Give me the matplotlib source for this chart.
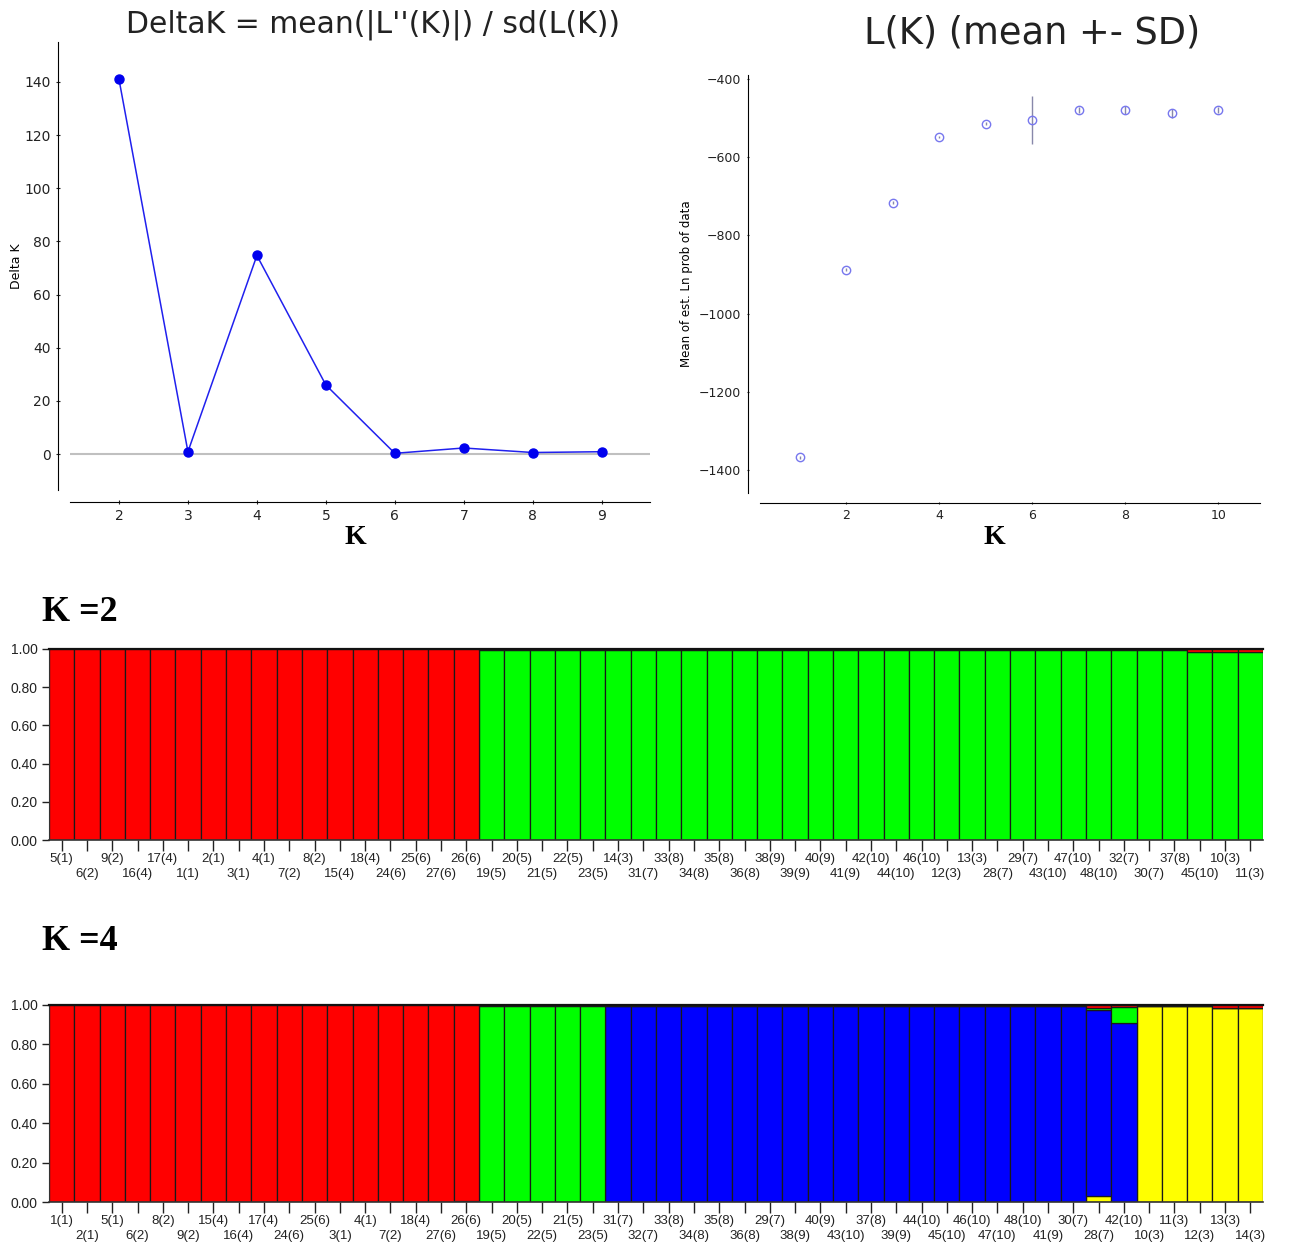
import numpy as np
import matplotlib
matplotlib.use('Agg')
import matplotlib.pyplot as plt

# Evanno DeltaK
k_delta = [2, 3, 4, 5, 6, 7, 8, 9]
delta_k = [141.0, 0.9, 74.7, 26.0, 0.3, 2.3, 0.6, 0.9]

# L(K) mean +- SD
k_lnp = [1, 2, 3, 4, 5, 6, 7, 8, 9, 10]
mean_lnp = [-1367, -887, -716, -548, -515, -505, -479, -479, -488, -479]
sd_lnp = [3, 3, 4, 3, 4, 61, 8, 10, 11, 8]

# K=2 bar plot
k2_labels = ['5(1)', '6(2)', '9(2)', '16(4)', '17(4)', '1(1)', '2(1)', '3(1)', '4(1)', '7(2)',
             '8(2)', '15(4)', '18(4)', '24(6)', '25(6)', '27(6)', '26(6)', '19(5)', '20(5)', '21(5)',
             '22(5)', '23(5)', '14(3)', '31(7)', '33(8)', '34(8)', '35(8)', '36(8)', '38(9)', '39(9)',
             '40(9)', '41(9)', '42(10)', '44(10)', '46(10)', '12(3)', '13(3)', '28(7)', '29(7)', '43(10)',
             '47(10)', '48(10)', '32(7)', '30(7)', '37(8)', '45(10)', '10(3)', '11(3)']
k2_green = [0.0, 0.0, 0.0, 0.0, 0.0, 0.0, 0.0, 0.0, 0.0, 0.0,
            0.0, 0.0, 0.0, 0.0, 0.0, 0.0, 0.0, 0.995, 0.995, 0.995,
            0.995, 0.995, 0.995, 0.995, 0.995, 0.995, 0.995, 0.995, 0.995, 0.995,
            0.995, 0.995, 0.995, 0.995, 0.995, 0.995, 0.995, 0.995, 0.995, 0.995,
            0.995, 0.995, 0.995, 0.995, 0.995, 0.985, 0.985, 0.985]
k2_red = [1.0, 1.0, 1.0, 1.0, 1.0, 1.0, 1.0, 1.0, 1.0, 1.0,
          1.0, 1.0, 1.0, 1.0, 1.0, 1.0, 1.0, 0.005, 0.005, 0.005,
          0.005, 0.005, 0.005, 0.005, 0.005, 0.005, 0.005, 0.005, 0.005, 0.005,
          0.005, 0.005, 0.005, 0.005, 0.005, 0.005, 0.005, 0.005, 0.005, 0.005,
          0.005, 0.005, 0.005, 0.005, 0.005, 0.015, 0.015, 0.015]

# K=4 bar plot
k4_labels = ['1(1)', '2(1)', '5(1)', '6(2)', '8(2)', '9(2)', '15(4)', '16(4)', '17(4)', '24(6)',
             '25(6)', '3(1)', '4(1)', '7(2)', '18(4)', '27(6)', '26(6)', '19(5)', '20(5)', '22(5)',
             '21(5)', '23(5)', '31(7)', '32(7)', '33(8)', '34(8)', '35(8)', '36(8)', '29(7)', '38(9)',
             '40(9)', '43(10)', '37(8)', '39(9)', '44(10)', '45(10)', '46(10)', '47(10)', '48(10)', '41(9)',
             '30(7)', '28(7)', '42(10)', '10(3)', '11(3)', '12(3)', '13(3)', '14(3)']
k4_yellow = [0.0, 0.0, 0.0, 0.0, 0.0, 0.0, 0.0, 0.0, 0.0, 0.0,
             0.0, 0.0, 0.0, 0.0, 0.0, 0.0, 0.0, 0.0, 0.0, 0.0,
             0.0, 0.0, 0.0, 0.0, 0.0, 0.0, 0.0, 0.0, 0.0, 0.0,
             0.0, 0.0, 0.0, 0.0, 0.0, 0.0, 0.0, 0.0, 0.0, 0.0,
             0.0, 0.03, 0.0, 0.995, 0.995, 0.995, 0.985, 0.985]
k4_blue = [0.0, 0.0, 0.0, 0.0, 0.0, 0.0, 0.0, 0.0, 0.0, 0.0,
           0.0, 0.0, 0.0, 0.0, 0.0, 0.0, 0.006, 0.0, 0.0, 0.0,
           0.0, 0.0, 0.995, 0.995, 0.995, 0.995, 0.995, 0.995, 0.995, 0.995,
           0.995, 0.995, 0.995, 0.995, 0.995, 0.995, 0.995, 0.995, 0.995, 0.995,
           0.995, 0.945, 0.91, 0.0, 0.0, 0.0, 0.0, 0.0]
k4_green = [0.0, 0.0, 0.0, 0.0, 0.0, 0.0, 0.0, 0.0, 0.0, 0.0,
            0.0, 0.0, 0.0, 0.0, 0.0, 0.0, 0.0, 0.995, 0.995, 0.995,
            0.995, 0.995, 0.0, 0.0, 0.0, 0.0, 0.0, 0.0, 0.0, 0.0,
            0.0, 0.0, 0.0, 0.0, 0.0, 0.0, 0.0, 0.0, 0.0, 0.0,
            0.0, 0.01, 0.08, 0.0, 0.0, 0.0, 0.0, 0.0]
k4_red = [1.0, 1.0, 1.0, 1.0, 1.0, 1.0, 1.0, 1.0, 1.0, 1.0,
          1.0, 1.0, 1.0, 1.0, 1.0, 1.0, 0.994, 0.005, 0.005, 0.005,
          0.005, 0.005, 0.005, 0.005, 0.005, 0.005, 0.005, 0.005, 0.005, 0.005,
          0.005, 0.005, 0.005, 0.005, 0.005, 0.005, 0.005, 0.005, 0.005, 0.005,
          0.005, 0.015, 0.01, 0.005, 0.005, 0.005, 0.015, 0.015]

W, H = 1293, 1248
fig = plt.figure(figsize=(W / 100, H / 100), dpi=100)
fig.patch.set_facecolor('white')

def fx(px):
    return px / W

def fy(px):
    return 1 - px / H

narrow = ['Liberation Sans', 'DejaVu Sans']
serif_bold = dict(family=['Liberation Serif', 'DejaVu Serif'], fontweight='bold')

# ---- DeltaK plot ----
ax1 = fig.add_axes([fx(70), fy(490), fx(650) - fx(70), fy(42) - fy(490)])
ax1.axhline(0, color='#c0c0c0', lw=1.5, zorder=1)
ax1.plot(k_delta, delta_k, '-', color='#2020ee', lw=1.1, zorder=2)
ax1.plot(k_delta, delta_k, 'o', color='#0000ee', ms=6.5, zorder=3)
ax1.set_xlim(1.29, 9.7)
ax1.set_ylim(-13.5, 155)
ax1.set_xticks(k_delta)
ax1.set_yticks([0, 20, 40, 60, 80, 100, 120, 140])
for s in ['top', 'right']:
    ax1.spines[s].set_visible(False)
ax1.spines['left'].set_position(('outward', 9))
ax1.spines['bottom'].set_position(('outward', 9))
ax1.tick_params(labelsize=10, length=3, direction='inout', colors='#222222')
ax1.set_ylabel('Delta K', fontsize=9, labelpad=1)
fig.text(fx(373), fy(25), "DeltaK = mean(|L''(K)|) / sd(L(K))", fontsize=21.5,
         ha='center', va='center', color='#222222')
fig.text(fx(355), fy(537), 'K', fontsize=20, ha='center', va='center', **serif_bold)

# ---- L(K) plot ----
ax2 = fig.add_axes([fx(760), fy(493), fx(1260) - fx(760), fy(75) - fy(493)])
ax2.errorbar(k_lnp, mean_lnp, yerr=sd_lnp, fmt='o', mfc='none', mec='#7777ee', ms=6,
             mew=1.0, ecolor='#8888aa', elinewidth=1.0, capsize=0)
ax2.set_xlim(0.15, 10.9)
ax2.set_ylim(-1458, -390)
ax2.set_xticks([2, 4, 6, 8, 10])
ax2.set_yticks([-400, -600, -800, -1000, -1200, -1400])
for s in ['top', 'right']:
    ax2.spines[s].set_visible(False)
ax2.spines['left'].set_position(('outward', 9))
ax2.spines['bottom'].set_position(('outward', 7))
ax2.tick_params(labelsize=9, length=2, direction='inout', colors='#222222')
ax2.set_ylabel('Mean of est. Ln prob of data', fontsize=8.5, labelpad=4)
fig.text(fx(1032), fy(33), 'L(K) (mean +- SD)', fontsize=26.5,
         ha='center', va='center', color='#222222')
fig.text(fx(994), fy(538), 'K', fontsize=20, ha='center', va='center', **serif_bold)


# ---- STRUCTURE bar plots ----
def bar_panel(ax, layers, labels):
    x = np.arange(len(labels))
    bottom = np.zeros(len(labels))
    for vals, col in layers:
        ax.bar(x, vals, width=1.0, bottom=bottom, align='edge', color=col,
               edgecolor='#1a1a1a', linewidth=0.9)
        bottom = bottom + np.array(vals)
    ax.set_xlim(0, len(labels))
    ax.set_ylim(0, 1.0)
    ax.set_yticks([0.0, 0.2, 0.4, 0.6, 0.8, 1.0])
    ax.set_yticklabels(['0.00', '0.20', '0.40', '0.60', '0.80', '1.00'], family=narrow)
    # two staggered label rows: upper row as major ticks, lower row as minor ticks
    ax.set_xticks(x[0::2] + 0.5)
    ax.set_xticklabels(labels[0::2], family=narrow)
    ax.set_xticks(x[1::2] + 0.5, minor=True)
    ax.set_xticklabels(labels[1::2], minor=True, family=narrow)
    ax.tick_params(axis='x', which='major', labelsize=9.5, length=8, width=1, pad=1.5,
                   colors='#222222')
    ax.tick_params(axis='x', which='minor', labelsize=9.5, length=8, width=1, pad=12.5,
                   colors='#222222')
    ax.tick_params(axis='y', labelsize=10, length=5, width=1, pad=3, colors='#222222')
    for s in ['top', 'right']:
        ax.spines[s].set_visible(False)
    ax.spines['left'].set_color('#333333')
    ax.spines['bottom'].set_color('#333333')
    ax.spines['bottom'].set_linewidth(1.2)
    ax.axhline(1.0, color='#111111', lw=1.6, zorder=5, clip_on=False)


ax3 = fig.add_axes([fx(49), fy(840), fx(1263) - fx(49), fy(649) - fy(840)])
bar_panel(ax3, [(k2_green, '#00ff00'), (k2_red, '#ff0000')], k2_labels)
fig.text(fx(42), fy(613), 'K =2', fontsize=26, ha='left', va='center', **serif_bold)

ax4 = fig.add_axes([fx(49), fy(1202), fx(1263) - fx(49), fy(1005) - fy(1202)])
bar_panel(ax4, [(k4_yellow, '#ffff00'), (k4_blue, '#0000ff'), (k4_green, '#00ff00'),
                (k4_red, '#ff0000')], k4_labels)
fig.text(fx(42), fy(942), 'K =4', fontsize=26, ha='left', va='center', **serif_bold)

fig.savefig('out.png', dpi=100)
